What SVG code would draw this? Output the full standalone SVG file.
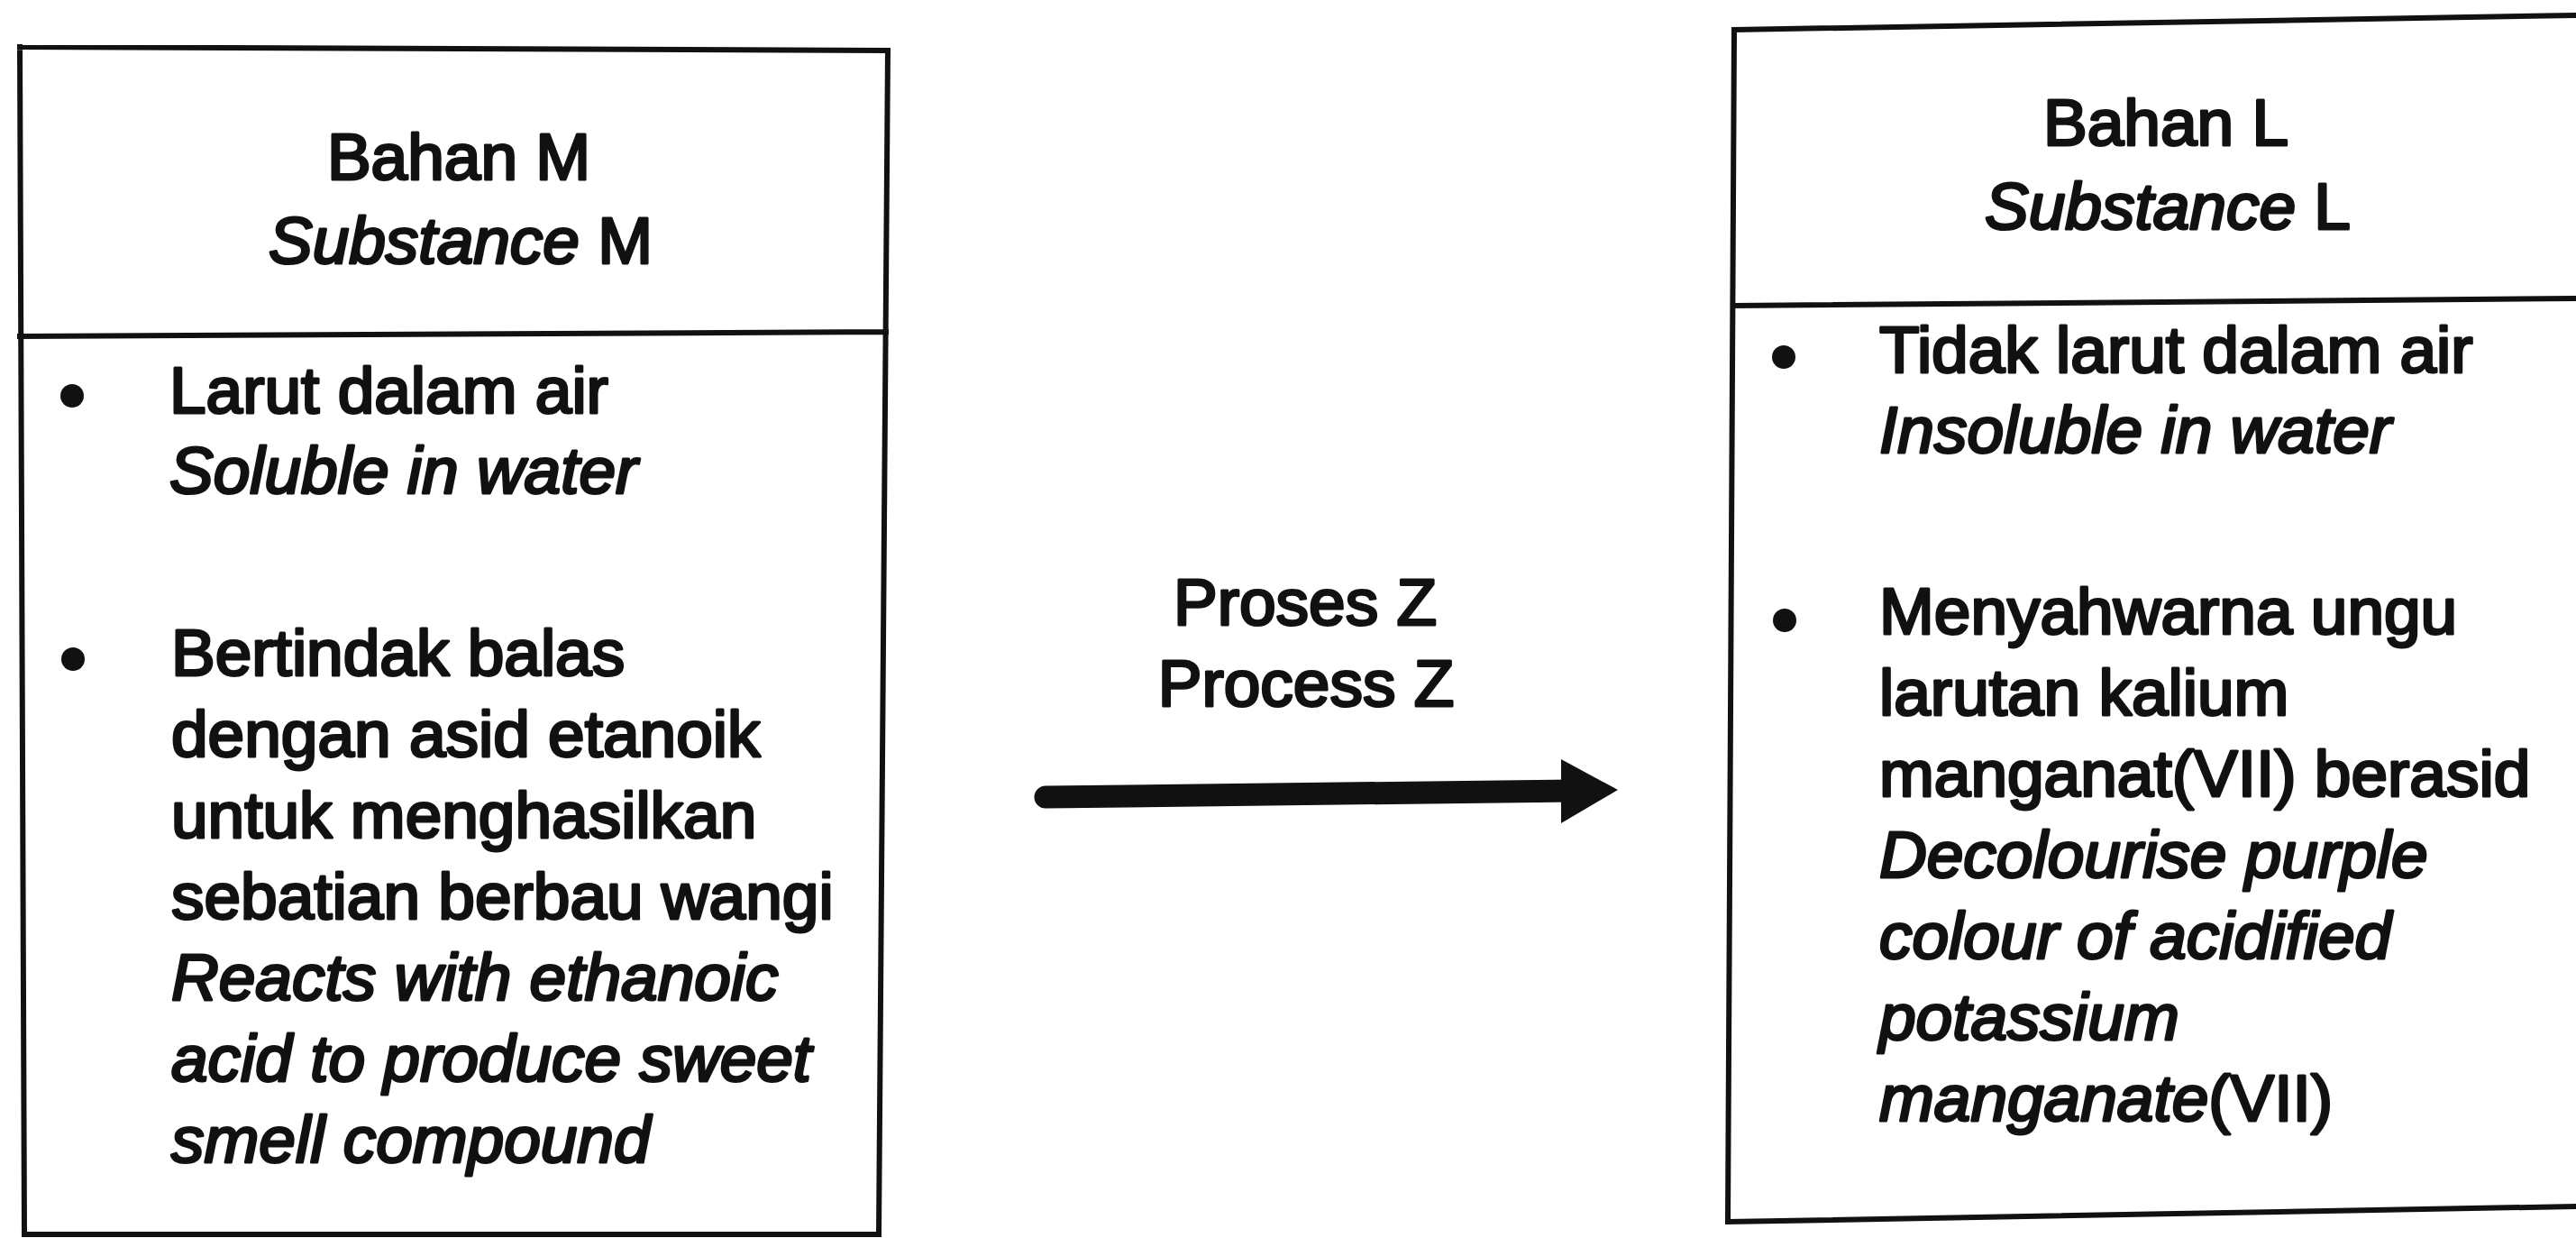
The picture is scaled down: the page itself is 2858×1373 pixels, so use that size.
<svg xmlns="http://www.w3.org/2000/svg" width="2858" height="1373" viewBox="0 0 2858 1373">
<style>
.t{font-family:"Liberation Sans",Arial,sans-serif;font-size:73px;fill:#111;stroke:#111;stroke-width:3px;stroke-linejoin:round}
.c{text-anchor:middle}
.i{font-style:italic}
.ln{fill:none;stroke:#111;stroke-width:6;stroke-linecap:square}
.b{fill:#111}
</style>
<rect width="2858" height="1373" fill="#fff"/>
<g id="nodeM">
<path class="ln" d="M22 52 L985 56 M22 52 L27 1369 M985 56 L975 1369 M22 373 L983 368 M27 1369 L975 1369"/>
<text class="t c" x="509" y="199">Bahan M</text>
<text class="t c" x="511" y="292"><tspan class="i">Substance</tspan> M</text>
<circle class="b" cx="80" cy="439" r="13"/>
<text class="t" x="188" y="458">Larut dalam air</text>
<text class="t i" x="188" y="547">Soluble in water</text>
<circle class="b" cx="81" cy="731" r="13"/>
<text class="t" x="190" y="749">Bertindak balas</text>
<text class="t" x="190" y="839">dengan asid etanoik</text>
<text class="t" x="190" y="929">untuk menghasilkan</text>
<text class="t" x="190" y="1019">sebatian berbau wangi</text>
<text class="t i" x="190" y="1109">Reacts with ethanoic</text>
<text class="t i" x="190" y="1199">acid to produce sweet</text>
<text class="t i" x="190" y="1289">smell compound</text>
</g>
<g id="nodeL">
<path class="ln" d="M1924 33 L2858 17 M1924 33 L1917 1355 M1924 339 L2858 331 M1917 1355 L2858 1338"/>
<text class="t c" x="2403" y="161">Bahan L</text>
<text class="t c" x="2405" y="254"><tspan class="i">Substance</tspan> L</text>
<circle class="b" cx="1979" cy="396" r="13"/>
<text class="t" x="2085" y="413">Tidak larut dalam air</text>
<text class="t i" x="2085" y="502">Insoluble in water</text>
<circle class="b" cx="1980" cy="688" r="13"/>
<text class="t" x="2085" y="703">Menyahwarna ungu</text>
<text class="t" x="2085" y="793">larutan kalium</text>
<text class="t" x="2085" y="883">manganat(VII) berasid</text>
<text class="t i" x="2085" y="973">Decolourise purple</text>
<text class="t i" x="2085" y="1063">colour of acidified</text>
<text class="t i" x="2085" y="1153">potassium</text>
<text class="t" x="2085" y="1243"><tspan class="i">manganate</tspan>(VII)</text>
</g>
<g id="connectors">
<line x1="1160" y1="884" x2="1745" y2="877" stroke="#111" stroke-width="25" stroke-linecap="round"/>
<polygon class="b" points="1732,842 1795,876 1732,913"/>
<text class="t c" x="1448" y="693">Proses Z</text>
<text class="t c" x="1449" y="783">Process Z</text>
</g>
</svg>
